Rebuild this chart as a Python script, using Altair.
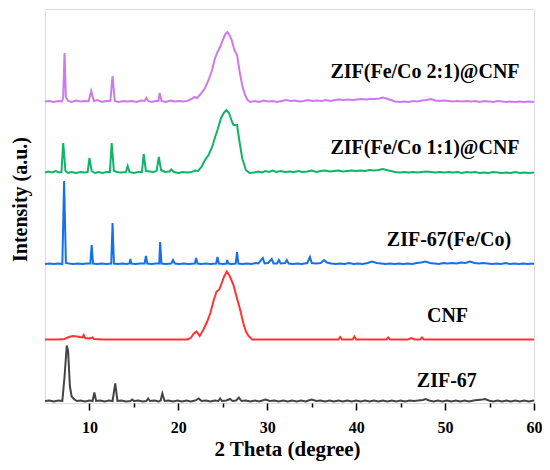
import altair as alt
import pandas as pd

# ---- data: (2theta, intensity above each trace's own baseline) ----
SERIES = ["ZIF-67", "CNF", "ZIF-67(Fe/Co)", "ZIF(Fe/Co 1:1)@CNF", "ZIF(Fe/Co 2:1)@CNF"]
OFFSETS = [1.5, 63.5, 139, 230, 301]
COLORS = ["#444444", "#FF3333", "#1670EC", "#0DB566", "#CC7AEE"]

zif67 = [(5.0,0.5),(5.5,1),(6.0,0),(6.5,1),(6.95,0.5),(7.2,25),(7.45,56),(7.6,50),(7.8,15),(8.0,5),
         (8.3,2),(8.6,0.5),(9.0,1),(9.5,0),(10.0,1),(10.35,0.5),(10.55,9),(10.75,0.5),(11.2,1),(11.7,0),
         (12.2,1),(12.6,0.5),(12.9,18),(13.15,0.5),(13.6,1),(14.1,0),(14.6,0.5),(14.8,2),(15.0,0.5),
         (15.5,1),(16.0,0),(16.4,0.5),(16.6,3),(16.8,0.5),(17.3,1),(17.8,0),(18.0,1),(18.2,8),(18.45,0.5),
         (18.9,1),(19.4,0),(19.9,1),(20.4,0),(20.9,1),(21.4,0),(21.9,1),(22.3,3),(22.6,0.5),(23.1,1),
         (23.6,0),(24.1,1),(24.5,0.5),(24.7,3),(24.9,0.5),(25.4,1),(25.8,2.5),(26.1,0.5),(26.5,1),
         (26.8,4),(27.1,0.5),(27.6,1),(28.1,0),(28.6,1),(29.1,0),(29.8,2),(30.3,0.5),(30.8,1),(31.3,0),
         (31.8,1),(32.3,0),(32.8,1),(33.3,0),(33.8,1),(34.3,0),(35.0,2),(35.5,0.5),(36.0,1),(36.5,0),
         (37.0,1),(37.5,0),(38.0,1),(38.5,0),(39.0,1),(39.5,0),(40.0,1),(40.5,0),(41.0,1),(41.5,0),
         (42.0,1),(42.5,0),(43.0,1),(43.5,0),(44.0,1),(44.5,0),(45.0,1),(45.5,0),(46.0,1),(46.5,0.5),
         (47.0,1),(47.5,1.5),(47.8,2.5),(48.2,1),(48.7,0),(49.2,1),(49.7,0),(50.2,1),(50.7,0),(51.2,1),
         (51.7,0),(52.2,1),(52.7,0),(53.2,1),(53.7,1.5),(54.2,2),(54.5,2.5),(54.9,1),(55.4,0),(55.9,1),
         (56.4,0),(56.9,1),(57.4,0),(57.9,1),(58.4,0),(58.9,1),(59.4,0),(60.0,1)]

cnf = [(5.0,0),(6.5,0),(7.2,0.5),(7.7,2.5),(8.1,3.5),(8.6,3),(9.2,2),(9.35,4.5),(9.5,1.5),(10.0,1),
       (10.35,2),(10.5,0.5),(11.5,0),(21.0,0),(21.4,1.5),(21.7,5.5),(22.05,8),(22.4,3.5),(22.8,9.5),
       (23.2,17),(23.6,26.5),(24.0,40),(24.3,48),(24.6,50),(24.9,57),(25.15,63),(25.45,68),(25.8,63),
       (26.2,54.5),(26.45,46),(26.7,38),(27.0,28),(27.3,16.5),(27.6,8),(27.9,3.5),(28.3,0),(38.0,0),
       (38.2,2.5),(38.4,0),(39.6,0),(39.8,3),(40.0,0),(43.4,0),(43.6,2),(43.8,0),(45.8,0),(46.2,1.5),
       (46.6,0),(47.2,0),(47.4,2),(47.6,0),(60.0,0)]

zif_fe = [(5.0,0),(5.5,0.5),(6.0,0),(6.5,0.5),(6.95,0),(7.15,83),(7.35,1),(7.7,0.5),(8.2,0),(8.7,0.5),
          (9.2,0),(9.7,0.5),(10.1,0.5),(10.25,19),(10.4,0.5),(10.9,0),(11.4,0.5),(11.9,0),(12.45,0.5),
          (12.6,41),(12.75,0.5),(13.2,0),(13.7,0.5),(14.2,0),(14.5,0.5),(14.6,5),(14.7,0.5),(15.2,0),
          (15.7,0.5),(16.2,0.5),(16.35,8),(16.5,0.5),(17.0,0),(17.5,0.5),(17.85,0.5),(17.95,22),
          (18.1,0.5),(18.6,0),(19.2,0.5),(19.4,4),(19.6,0.5),(20.1,0),(20.6,0.5),(21.1,0),(21.85,0.5),
          (22.0,6),(22.15,0.5),(22.6,0),(23.1,0.5),(23.6,0),(24.25,0.5),(24.4,7),(24.55,0.5),(25.0,0),
          (25.4,0.5),(25.5,4),(25.6,0.5),(26.0,0),(26.45,0.5),(26.6,12),(26.75,0.5),(27.2,0),(27.7,0.5),
          (28.2,0),(28.7,1),(29.0,0.5),(29.5,6),(29.7,0.5),(30.1,1),(30.5,5),(30.7,0.5),(31.1,0.5),
          (31.3,4),(31.5,0.5),(32.0,1),(32.2,4),(32.4,0.5),(32.9,0),(33.4,0.5),(33.9,0),(34.5,1),
          (34.8,7),(35.0,1),(35.5,0.5),(36.0,1),(36.4,4),(36.7,1.5),(37.2,0.5),(37.7,0),(38.2,0.5),
          (38.7,0),(39.2,1),(39.7,0),(40.2,0.5),(40.7,0),(41.3,1),(41.8,2.5),(42.3,1),(42.8,0.5),
          (43.3,0),(43.8,0.5),(44.3,0),(44.8,0.5),(45.3,0),(45.8,0.5),(46.3,0),(46.8,1),(47.3,1.5),
          (47.8,2.5),(48.3,1),(48.8,0.5),(49.3,0),(49.8,1),(50.3,0.5),(50.8,1),(51.3,0.5),(51.8,1.5),
          (52.3,1),(52.8,2.5),(53.3,1),(53.8,0.5),(54.3,1),(54.8,0.5),(55.3,0),(55.8,0.5),(56.3,0),
          (56.8,1),(57.3,0),(57.8,0.5),(58.3,0),(58.8,0.5),(59.3,0),(59.8,0.5),(60.0,0)]

zif11 = [(5.0,0.5),(5.4,1.5),(5.8,0.5),(6.2,2),(6.6,0.5),(6.85,1),(7.05,30),(7.3,2),(7.6,0),(8.0,1),
         (8.5,0),(9.0,1),(9.5,0.5),(9.8,1),(10.0,15),(10.25,2),(10.6,0),(11.0,1),(11.5,0),(11.9,1),
         (12.3,1),(12.5,30),(12.75,2),(13.1,1),(13.5,0.5),(14.1,1),(14.3,7),(14.5,1),(15.0,0),(15.5,1),
         (15.9,1),(16.1,19),(16.35,2),(16.8,1.5),(17.2,1),(17.55,2),(17.8,16),(18.05,3),(18.5,1),
         (19.0,1.5),(19.2,3.5),(19.5,1),(20.0,0),(20.5,1),(21.0,0.5),(21.5,1),(21.9,2.5),(22.2,2),
         (22.6,6),(23.0,13),(23.4,18),(23.8,26),(24.1,35),(24.4,43),(24.8,55),(25.1,60),(25.4,63),
         (25.7,60),(26.0,52),(26.2,48),(26.6,48),(26.9,30),(27.2,14),(27.6,3),(28.0,0),(28.5,0.5),
         (29.0,1.5),(29.4,0.5),(29.8,2),(30.2,1),(30.6,2.5),(31.0,1),(31.5,2),(32.0,1),(32.5,1.5),
         (33.0,1),(33.5,2),(34.0,1),(34.5,1.5),(35.0,2.5),(35.5,1),(36.0,2),(36.5,2.5),(37.0,1.5),
         (37.5,2),(38.0,2.5),(38.5,1.5),(39.0,2),(39.5,2.5),(40.0,2),(40.5,2.5),(41.0,2),(41.5,3),
         (42.0,2.5),(42.5,3),(43.0,4),(43.4,3),(43.9,2),(44.4,1),(44.9,0.5),(45.4,1),(45.9,0.5),
         (46.4,1),(46.9,0.5),(47.4,1),(47.9,1.5),(48.4,1),(48.9,0.5),(49.4,1),(49.9,0.5),(50.4,1),
         (50.9,0.5),(51.4,1),(51.9,0),(52.4,1),(52.9,0.5),(53.4,1),(53.9,0),(54.4,0.5),(54.9,0),
         (55.4,1),(55.9,0.5),(56.4,0),(56.9,0.5),(57.4,0),(57.9,1),(58.4,0),(58.9,0.5),(59.4,0),(60.0,0.5)]

zif21 = [(5.0,0.5),(5.5,1),(6.0,0),(6.5,1),(6.9,0.5),(7.05,5),(7.2,49),(7.35,5),(7.6,1),(8.0,0),
         (8.5,1.5),(9.0,0.5),(9.5,1),(9.9,0.5),(10.2,11),(10.5,1),(10.9,2),(11.4,0),(11.9,1),(12.35,1),
         (12.6,26),(12.85,1),(13.3,0),(13.8,1),(14.3,0.5),(14.8,1),(15.3,0),(15.8,1.5),(16.2,1),(16.4,4),
         (16.6,1),(17.0,0),(17.4,1),(17.75,1),(17.9,9),(18.1,1),(18.6,0),(19.1,1.5),(19.6,0.5),(20.1,1),
         (20.6,0.5),(21.0,1),(21.5,3),(21.8,5),(22.1,4),(22.5,8),(23.0,14),(23.4,22),(23.8,32),(24.1,43),
         (24.4,50),(24.7,55),(25.0,62),(25.3,68),(25.5,70),(25.7,68),(26.0,62),(26.3,52),(26.6,47),
         (26.9,30),(27.2,16),(27.5,7),(27.8,2),(28.1,0),(28.6,1),(29.1,0),(29.6,1.5),(30.1,0.5),(30.6,1),
         (31.1,0),(31.6,1),(32.1,2),(32.6,1),(33.1,1.5),(33.6,0.5),(34.1,1),(34.6,2),(35.1,1),(35.6,1.5),
         (36.1,1),(36.6,2),(37.1,1),(37.6,2),(38.1,2.5),(38.6,2),(39.1,2.5),(39.6,2),(40.1,2.5),(40.6,3),
         (41.1,2.5),(41.6,3),(42.1,3),(42.6,3.5),(43.0,4.5),(43.4,3.5),(43.9,2),(44.4,0.5),(44.9,0),
         (45.4,0.5),(45.9,0),(46.4,1),(46.9,0.5),(47.4,1.5),(47.9,2),(48.4,3),(48.9,1.5),(49.4,1),
         (49.9,1.5),(50.4,1),(50.9,0.5),(51.4,1),(51.9,0.5),(52.4,1),(52.9,0.5),(53.4,1),(53.9,0),
         (54.4,1),(54.9,0.5),(55.4,0),(55.9,1),(56.4,0.5),(56.9,0),(57.4,0.5),(57.9,0),(58.4,0.5),
         (58.9,0),(59.4,0.5),(60.0,0)]

POINTS = [zif67, cnf, zif_fe, zif11, zif21]

X_TICKS = [10, 15, 20, 25, 30, 35, 40, 45, 50, 55, 60]

# annotation placement (2theta, stacked intensity)
LABEL_X = [50.2, 50.27, 50.44, 47.74, 47.74]
LABEL_Y = [22, 87, 163, 255, 331]

FONT = "'Liberation Serif', 'Times New Roman', Tinos, 'DejaVu Serif', serif"

rows = []
for name, pts, off in zip(SERIES, POINTS, OFFSETS):
    for x, y in pts:
        rows.append({"series": name, "x": x, "y": y + off})
df = pd.DataFrame(rows)
labels = pd.DataFrame({"label": SERIES, "x": LABEL_X, "y": LABEL_Y})

xscale = alt.Scale(domain=[5, 60], nice=False, zero=False)
yscale = alt.Scale(domain=[0, 394], nice=False, zero=False)

lines = alt.Chart(df).mark_line(strokeWidth=2, interpolate="linear").encode(
    x=alt.X("x:Q", scale=xscale, axis=alt.Axis(
        title="2 Theta (degree)", values=X_TICKS,
        labelExpr="datum.value % 10 == 0 ? datum.label : ''",
        grid=False, domain=False, ticks=True,
        tickSize={"condition": {"test": "datum.value % 10 == 0", "value": 7}, "value": 4},
        tickWidth=1.5, tickColor="black",
        labelFont=FONT, labelFontWeight="bold", labelFontSize=16, labelColor="black",
        labelBaseline="alphabetic", labelPadding=22, labelFlush=False,
        titleFont=FONT, titleFontWeight="bold", titleFontSize=21, titleColor="black",
        titleX=242, titleY=52, titleBaseline="alphabetic", titleAlign="center")),
    y=alt.Y("y:Q", scale=yscale, axis=alt.Axis(
        title="Intensity (a.u.)", labels=False, ticks=False, domain=False, grid=False,
        titleFont=FONT, titleFontWeight="bold", titleFontSize=20, titleColor="black",
        titleAngle=-90, titleX=-19, titleY=190, titleBaseline="alphabetic", titleAlign="center")),
    color=alt.Color("series:N", scale=alt.Scale(domain=SERIES, range=COLORS), legend=None),
    detail="series:N",
)

texts = alt.Chart(labels).mark_text(
    font=FONT, fontWeight="bold", fontSize=20, align="center", baseline="middle", color="black"
).encode(
    x=alt.X("x:Q", scale=xscale),
    y=alt.Y("y:Q", scale=yscale),
    text="label:N",
)

chart = alt.layer(lines, texts).properties(
    width=489, height=394,
    padding={"left": 37, "top": 1, "right": 8, "bottom": 60},
    autosize=alt.AutoSizeParams(type="none"),
).configure_view(stroke="black", strokeWidth=1.5).configure(background="white")

chart.save("out.html", embed_options={"renderer": "svg", "actions": False})
